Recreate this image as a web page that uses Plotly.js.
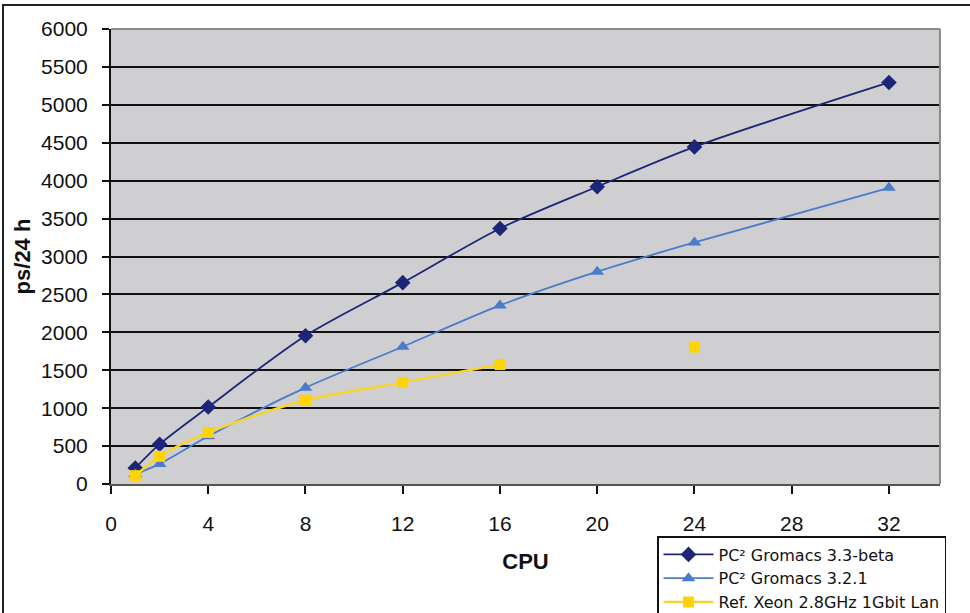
<!DOCTYPE html>
<html>
<head>
<meta charset="utf-8">
<script src="https://cdn.plot.ly/plotly-3.0.1.min.js"></script>
<style>
  html, body { margin: 0; padding: 0; background: #ffffff; }
  #chart { width: 970px; height: 613px; }
</style>
</head>
<body>
<div id="chart"></div>
<script>
// ---- data ----
var cpus = [1, 2, 4, 8, 12, 16, 20, 24, 32];
var gromacs33beta = [210, 525, 1015, 1955, 2655, 3370, 3920, 4445, 5295];
var gromacs321 = [130, 265, 630, 1270, 1810, 2355, 2800, 3185, 3905];
var refXeon = [110, 365, 680, 1105, 1340, 1575, null, 1805, null];

var seriesNames = ["PC\u00B2 Gromacs 3.3-beta", "PC\u00B2 Gromacs 3.2.1", "Ref. Xeon 2.8GHz 1Gbit Lan"];
var xTicks = [0, 4, 8, 12, 16, 20, 24, 28, 32];
var yTicks = [0, 500, 1000, 1500, 2000, 2500, 3000, 3500, 4000, 4500, 5000, 5500, 6000];

var FONT = '"Liberation Sans", Arial, Helvetica, sans-serif';
var LEGEND_FONT = '"DejaVu Sans", Verdana, sans-serif';

var traces = [
  {
    x: cpus, y: gromacs33beta, name: seriesNames[0],
    type: 'scatter', mode: 'lines+markers',
    line: { color: '#1c2577', width: 1.8, shape: 'spline', smoothing: 0.8 },
    marker: { symbol: 'diamond', size: 12, color: '#1c2577' }
  },
  {
    x: cpus, y: gromacs321, name: seriesNames[1],
    type: 'scatter', mode: 'lines+markers',
    line: { color: '#4a7cc9', width: 1.8, shape: 'spline', smoothing: 0.8 },
    marker: { symbol: 'triangle-up', size: 12, color: '#4a7cc9' }
  },
  {
    x: cpus, y: refXeon, name: seriesNames[2],
    type: 'scatter', mode: 'lines+markers', connectgaps: false,
    line: { color: '#f7d52a', width: 2.5, shape: 'spline', smoothing: 0.8 },
    marker: { symbol: 'square', size: 11, color: '#ffd400' }
  }
];

var L = 111, T = 29, PW = 829, PH = 455, W = 970, H = 613;
function px2x(p) { return (p - L) / PW; }
function px2y(p) { return (T + PH - p) / PH; }

var layout = {
  width: W, height: H,
  margin: { l: L, r: W - L - PW, t: T, b: H - T - PH, autoexpand: false },
  paper_bgcolor: '#ffffff',
  plot_bgcolor: '#cfcfd2',
  font: { family: FONT, color: '#111111', size: 21 },
  showlegend: true,
  xaxis: {
    range: [0, 34.1],
    tickmode: 'array', tickvals: xTicks, ticktext: xTicks.map(String),
    ticks: 'outside', ticklen: 8, tickwidth: 2, tickcolor: '#111',
    ticklabelstandoff: 12,
    showgrid: false, zeroline: false,
    showline: true, linecolor: '#555', linewidth: 2,
    tickfont: { size: 21, family: FONT, color: '#111' },
    title: { text: 'CPU', font: { size: 22, family: FONT, color: '#111', weight: 'bold' }, standoff: 19 },
    fixedrange: true
  },
  yaxis: {
    range: [0, 6000],
    tickmode: 'array', tickvals: yTicks, ticktext: yTicks.map(String),
    ticks: 'outside', ticklen: 7, tickwidth: 2, tickcolor: '#111',
    ticklabelstandoff: 10,
    showgrid: true, gridcolor: '#111111', gridwidth: 2,
    zeroline: false,
    showline: true, linecolor: '#111', linewidth: 2,
    tickfont: { size: 21, family: FONT, color: '#111' },
    title: { text: 'ps/24 h', font: { size: 22, family: FONT, color: '#111', weight: 'bold' }, standoff: 4 },
    fixedrange: true
  },
  legend: {
    x: px2x(657), y: px2y(536), xanchor: 'left', yanchor: 'top',
    bgcolor: '#ffffff', bordercolor: '#111111', borderwidth: 1.5,
    font: { size: 16, family: LEGEND_FONT, color: '#111' },
    itemwidth: 50, tracegroupgap: 0
  },
  shapes: [
    // plot-area frame (top and right edges in grey)
    { type: 'line', xref: 'paper', yref: 'paper', x0: 0, x1: 1, y0: 1, y1: 1,
      line: { color: '#8c8c8c', width: 2 } },
    { type: 'line', xref: 'paper', yref: 'paper', x0: 1, x1: 1, y0: 0, y1: 1,
      line: { color: '#8c8c8c', width: 2 } },
    // outer chart border
    { type: 'rect', xref: 'paper', yref: 'paper', layer: 'below',
      x0: px2x(3), x1: px2x(990), y0: px2y(640), y1: px2y(5),
      line: { color: '#222222', width: 2 } }
  ]
};

Plotly.newPlot('chart', traces, layout, { displayModeBar: false, staticPlot: true });
</script>
</body>
</html>
